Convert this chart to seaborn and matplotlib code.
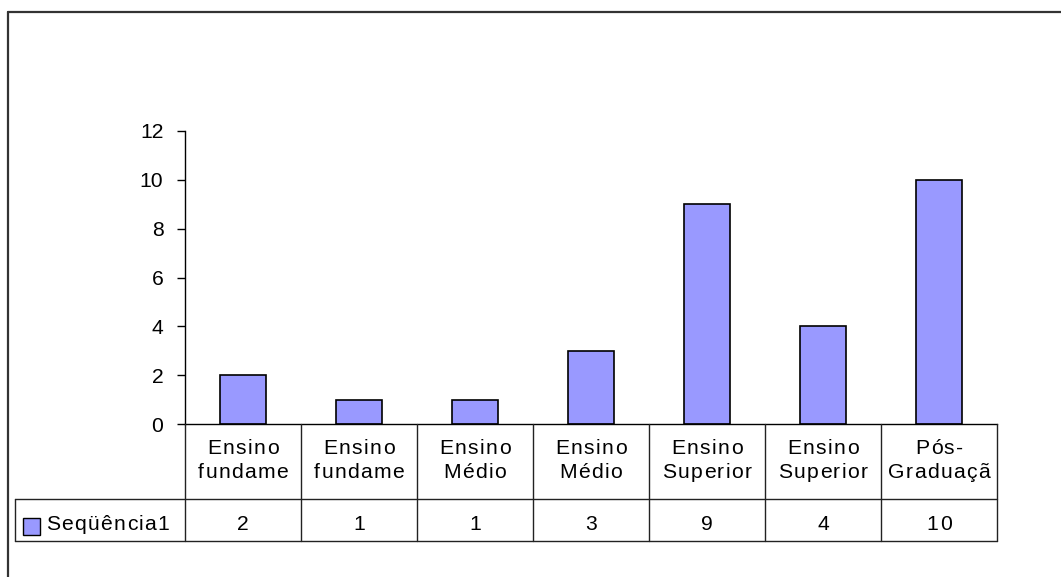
import matplotlib
matplotlib.use("Agg")
import matplotlib.pyplot as plt
from matplotlib.lines import Line2D
from matplotlib.patches import Rectangle
from matplotlib.font_manager import FontProperties, findfont
from matplotlib.ft2font import FT2Font
import seaborn as sns
import pandas as pd

# Data
categories = ["Ensino\nfundame", "Ensino\nfundame", "Ensino\nMédio", "Ensino\nMédio",
              "Ensino\nSuperior", "Ensino\nSuperior", "Pós-\nGraduaçã"]
values = [2, 1, 1, 3, 9, 4, 10]
series_name = "Seqüência1"
y_ticks = [0, 2, 4, 6, 8, 10, 12]

BAR_COLOR = "#9999FF"
W, H = 1061, 577
DPI = 100
FONT = "Liberation Sans"
FS = 15.2          # points
TRACK = 1.3        # extra pixels between characters

sns.set_theme(style="white")
plt.rcParams["font.family"] = [FONT, "DejaVu Sans"]

fig = plt.figure(figsize=(W / DPI, H / DPI), dpi=DPI)
fig.patch.set_facecolor("white")


def fx(px):
    return px / W


def fy(py):
    return 1 - py / H


# glyph advances for letter-spaced table text
_ft = FT2Font(findfont(FontProperties(family=FONT)))
_ft.set_size(FS, DPI)


def advance(ch):
    g = _ft.load_char(ord(ch))
    return g.linearHoriAdvance / 65536.0


def text_width(s):
    return sum(advance(c) for c in s) + TRACK * (len(s) - 1)


def tracked_text(x_px, baseline_px, s, ha="center"):
    w = text_width(s)
    if ha == "center":
        x = x_px - w / 2
    elif ha == "right":
        x = x_px - w
    else:
        x = x_px
    for ch in s:
        fig.text(fx(x), fy(baseline_px), ch, ha="left", va="baseline",
                 fontsize=FS, color="black", family=FONT)
        x += advance(ch) + TRACK


# plot area
left_px, right_px, top_px, base_px = 185, 997, 131, 424
ax = fig.add_axes([fx(left_px), fy(base_px), fx(right_px - left_px), (base_px - top_px) / H])

df = pd.DataFrame({"pos": list(range(len(values))), "value": values})
sns.barplot(data=df, x="pos", y="value", color=BAR_COLOR, saturation=1, width=0.4,
            edgecolor="black", linewidth=1.2, ax=ax)
for p in ax.patches:
    p.set_facecolor(BAR_COLOR)

n = len(values)
ax.set_xlim(-0.5, n - 0.5)
ax.set_ylim(0, 12)
ax.set_yticks(y_ticks)
ax.set_yticklabels([str(t) for t in y_ticks], fontsize=FS)
ax.set_xticks([])
ax.set_xlabel("")
ax.set_ylabel("")
for s in ["top", "right"]:
    ax.spines[s].set_visible(False)
for s in ["left", "bottom"]:
    ax.spines[s].set_color("black")
    ax.spines[s].set_linewidth(1.0)
ax.tick_params(axis="y", direction="out", length=5.5, width=1, color="black", pad=10,
               left=True, labelcolor="black")

# data table below the axis
col_w = (right_px - left_px) / n
row1_bottom = 499
row2_bottom = 541
line_kw = dict(color="#222222", linewidth=1.0)

for i in range(n + 1):
    xb = left_px + i * col_w
    fig.add_artist(Line2D([fx(xb), fx(xb)], [fy(base_px), fy(row2_bottom)], **line_kw))
for yb in (row1_bottom, row2_bottom):
    fig.add_artist(Line2D([fx(15), fx(right_px)], [fy(yb), fy(yb)], **line_kw))
fig.add_artist(Line2D([fx(15), fx(15)], [fy(row1_bottom), fy(row2_bottom)], **line_kw))

for i, (cat, v) in enumerate(zip(categories, values)):
    cx = left_px + (i + 0.5) * col_w
    line1, line2 = cat.split("\n")
    tracked_text(cx, 454, line1)
    tracked_text(cx, 478, line2)
    tracked_text(cx, 529.5, str(v))

# legend key in the table
fig.add_artist(Rectangle((fx(23), fy(535)), fx(17), 17 / H, facecolor=BAR_COLOR,
                         edgecolor="black", linewidth=1.0))
tracked_text(46, 530, series_name, ha="left")

# outer frame
frame_kw = dict(color="#333333", linewidth=1.6)
fig.add_artist(Line2D([fx(7.5), 1], [fy(12), fy(12)], **frame_kw))
fig.add_artist(Line2D([fx(7.5), fx(7.5)], [fy(12), 0], **frame_kw))

fig.savefig("out.png", dpi=DPI, facecolor="white")
